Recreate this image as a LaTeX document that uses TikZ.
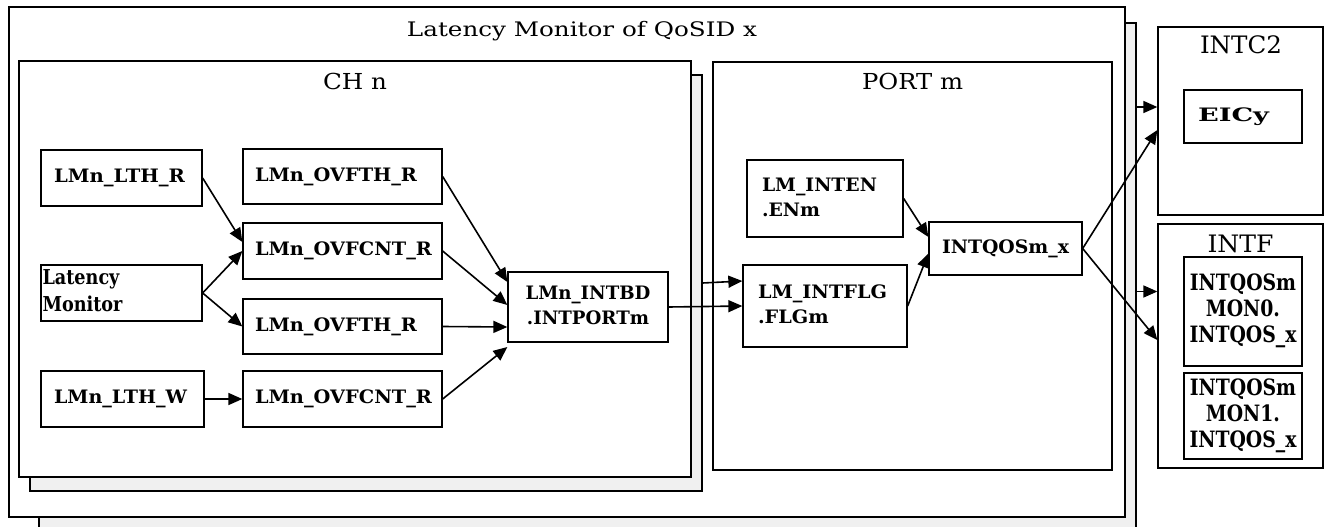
\documentclass[tikz,border=0pt]{standalone}
\usepackage{graphicx}
\usepackage{fontspec}
\setmainfont{DejaVu Serif}
\usetikzlibrary{arrows.meta,calc}

\newcommand{\lblfont}{\fontsize{18.5}{25}\selectfont\bfseries}
\newcommand{\bigfont}{\fontsize{22.5}{26}\selectfont\bfseries}
\newcommand{\latfont}{\fontsize{20.5}{27}\selectfont\bfseries}
\newcommand{\ttlfont}{\fontsize{20}{25}\selectfont}
\newcommand{\subfont}{\fontsize{22}{26}\selectfont}
\newcommand{\sidefont}{\fontsize{24}{28}\selectfont}
% set a text to a given width, keeping its height
\newcommand{\fitw}[2]{\resizebox{#1}{\height}{#2}}
% stacked lines with a given alignment
\newcommand{\stack}[2]{\begin{tabular}{@{}#1@{}}#2\end{tabular}}

\tikzset{
  frame/.style={draw, line width=1.3pt, fill=white, inner sep=0pt},
  shadowbox/.style={draw, line width=1.3pt, fill=black!6, inner sep=0pt},
  regbox/.style={draw, line width=1.3pt, fill=white, font=\lblfont, inner sep=0pt, align=center},
  leftbox/.style={regbox, align=left},
  ttl/.style={font=\ttlfont, inner sep=0pt, anchor=base},
  arr/.style={-{Triangle[length=14pt,width=12pt]}, line width=1.6pt},
}

\begin{document}
\begin{tikzpicture}[x=1pt,y=-1pt]
\useasboundingbox (0,0) rectangle (1327,527);
\clip (0,0) rectangle (1327,527);

% outer block with its stacked copy behind
\node[shadowbox, minimum width=1097pt, minimum height=537pt] (outs) at (587.5,291.5) {};
\node[frame, minimum width=1116pt, minimum height=510pt] (outer) at (567,262) {};
\node[ttl] (outert) at (582,37) {\fitw{350pt}{Latency Monitor of QoSID x}};

% channel block with its stacked copy behind
\node[shadowbox, minimum width=672pt, minimum height=416pt] (chs) at (366,283) {};
\node[frame, minimum width=672pt, minimum height=416pt] (ch) at (355,269) {};
\node[ttl, font=\subfont] (cht) at (355,89) {\fitw{64pt}{CH n}};

% port block
\node[frame, minimum width=399pt, minimum height=408pt] (port) at (912.5,266) {};
\node[ttl, font=\subfont] (portt) at (912.5,89) {\fitw{101pt}{PORT m}};

% interrupt controllers
\node[frame, minimum width=165pt, minimum height=188pt] (intc) at (1240.5,121) {};
\node[ttl, font=\sidefont] (intct) at (1241,53) {\fitw{82pt}{INTC2}};
\node[frame, minimum width=165pt, minimum height=244pt] (intf) at (1240.5,346) {};
\node[ttl, font=\sidefont] (intft) at (1240.5,252) {\fitw{66pt}{INTF}};

\node[leftbox, text width=90pt, inner xsep=14pt, minimum width=118pt, minimum height=53pt] (eic) at (1243,116.5) {\fitw{71pt}{EICy}};
\node[regbox, font=\bigfont, minimum width=118pt, minimum height=109pt] (mon0) at (1243,311.5) {\fitw{107pt}{\stack{c}{INTQOSm\\MON0.\\INTQOS\_x}}};
\node[regbox, font=\bigfont, minimum width=118pt, minimum height=86pt] (mon1) at (1243,416) {\fitw{107pt}{\stack{c}{INTQOSm\\MON1.\\INTQOS\_x}}};

% port registers
\node[leftbox, text width=126pt, inner xsep=15pt, minimum width=156pt, minimum height=77pt] (en) at (825,198.5) {\fitw{115pt}{\stack{l}{LM\_INTEN\\.ENm}}};
\node[leftbox, text width=134pt, inner xsep=15pt, minimum width=164pt, minimum height=82pt] (flg) at (825,306) {\fitw{129pt}{\stack{l}{LM\_INTFLG\\.FLGm}}};
\node[regbox, minimum width=153pt, minimum height=53pt] (qos) at (1005.5,248.5) {\fitw{127pt}{INTQOSm\_x}};

% channel registers
\node[regbox, minimum width=160pt, minimum height=70pt] (bd) at (588,307) {\fitw{125pt}{\stack{c}{LMn\_INTBD\\.INTPORTm}}};
\node[leftbox, text width=135pt, inner xsep=13pt, minimum width=161pt, minimum height=56pt] (ltr) at (121.5,178) {\fitw{131pt}{LMn\_LTH\_R}};
\node[leftbox, font=\latfont, text width=158pt, inner xsep=1pt, minimum width=161pt, minimum height=56pt] (lat) at (121.5,293) {\fitw{80pt}{\stack{l}{Latency\\Monitor}}};
\node[leftbox, text width=137pt, inner xsep=13pt, minimum width=163pt, minimum height=56pt] (ltw) at (122.5,399) {\fitw{133pt}{LMn\_LTH\_W}};
\node[leftbox, text width=175pt, inner xsep=12pt, minimum width=199pt, minimum height=55pt] (c1) at (342.5,176.5) {\fitw{162pt}{LMn\_OVFTH\_R}};
\node[leftbox, text width=175pt, inner xsep=12pt, minimum width=199pt, minimum height=56pt] (c2) at (342.5,251) {\fitw{177pt}{LMn\_OVFCNT\_R}};
\node[leftbox, text width=175pt, inner xsep=12pt, minimum width=199pt, minimum height=55pt] (c3) at (342.5,326.5) {\fitw{162pt}{LMn\_OVFTH\_R}};
\node[leftbox, text width=175pt, inner xsep=12pt, minimum width=199pt, minimum height=56pt] (c4) at (342.5,399) {\fitw{177pt}{LMn\_OVFCNT\_R}};

% connection points
\coordinate (flgin) at ($(flg.west)+(0,-25)$);
\coordinate (intcin) at ($(intc.west)+(0,-14)$);

% connectors inside the channel
\draw[arr] (ltr.east) -- ($(c2.west)+(0,-9)$);
\draw[arr] (lat.east) -- (c2.west);
\draw[arr] (lat.east) -- (c3.west);
\draw[arr] (ltw.east) -- (c4.west);
\draw[arr] (c1.east) -- ($(bd.west)+(0,-25)$);
\draw[arr] (c2.east) -- ($(bd.west)+(0,-2)$);
\draw[arr] (c3.east) -- ($(bd.west)+(0,20)$);
\draw[arr] (c4.east) -- ($(bd.west)+(0,40)$);

% channel to port
\draw[arr] (chs.east) -- (flgin);
\draw[arr] (bd.east) -- (flg.west);

% port logic
\draw[arr] (en.east) -- ($(qos.west)+(0,-11.5)$);
\draw[arr] (flg.east) -- ($(qos.west)+(0,5)$);
\draw[arr] (qos.east) -- ($(intc.west)+(0,9)$);
\draw[arr] (qos.east) -- ($(intf.west)+(0,-6)$);

% block outputs to the interrupt controllers
\draw[arr] (intcin -| outs.east) -- (intcin);
\draw[arr] (outs.east) -- (outs.east -| intf.west);
\end{tikzpicture}
\end{document}
